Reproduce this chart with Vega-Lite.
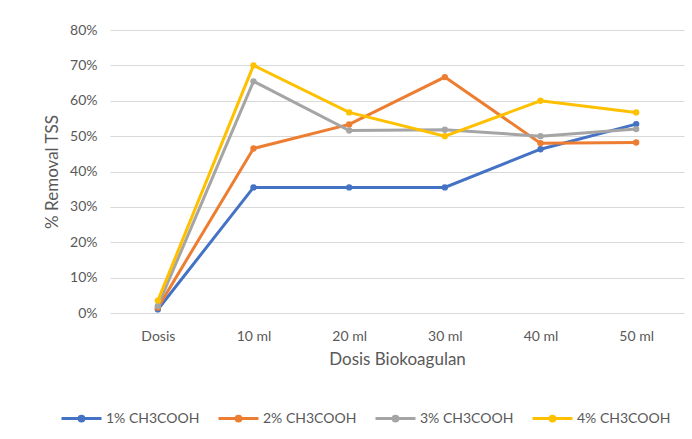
{
  "$schema": "https://vega.github.io/schema/vega-lite/v6.json",
  "autosize": "none",
  "width": 574,
  "height": 283,
  "padding": {"left": 110, "top": 30, "right": 8, "bottom": 126},
  "background": "white",
  "config": {
    "font": "Lato",
    "view": {"stroke": null},
    "axis": {"labelColor": "#595959", "titleColor": "#595959", "labelFont": "Lato", "titleFont": "Lato", "labelFontSize": 14, "titleFontSize": 17, "titleFontWeight": "normal"}
  },
  "data": {"values": [
    {"dosis": "Dosis", "seri": "1% CH3COOH", "v": 0.01},
    {"dosis": "10 ml", "seri": "1% CH3COOH", "v": 0.355},
    {"dosis": "20 ml", "seri": "1% CH3COOH", "v": 0.355},
    {"dosis": "30 ml", "seri": "1% CH3COOH", "v": 0.355},
    {"dosis": "40 ml", "seri": "1% CH3COOH", "v": 0.463},
    {"dosis": "50 ml", "seri": "1% CH3COOH", "v": 0.534},
    {"dosis": "Dosis", "seri": "2% CH3COOH", "v": 0.015},
    {"dosis": "10 ml", "seri": "2% CH3COOH", "v": 0.465},
    {"dosis": "20 ml", "seri": "2% CH3COOH", "v": 0.533},
    {"dosis": "30 ml", "seri": "2% CH3COOH", "v": 0.667},
    {"dosis": "40 ml", "seri": "2% CH3COOH", "v": 0.48},
    {"dosis": "50 ml", "seri": "2% CH3COOH", "v": 0.482},
    {"dosis": "Dosis", "seri": "3% CH3COOH", "v": 0.02},
    {"dosis": "10 ml", "seri": "3% CH3COOH", "v": 0.655},
    {"dosis": "20 ml", "seri": "3% CH3COOH", "v": 0.516},
    {"dosis": "30 ml", "seri": "3% CH3COOH", "v": 0.518},
    {"dosis": "40 ml", "seri": "3% CH3COOH", "v": 0.5},
    {"dosis": "50 ml", "seri": "3% CH3COOH", "v": 0.52},
    {"dosis": "Dosis", "seri": "4% CH3COOH", "v": 0.035},
    {"dosis": "10 ml", "seri": "4% CH3COOH", "v": 0.70},
    {"dosis": "20 ml", "seri": "4% CH3COOH", "v": 0.567},
    {"dosis": "30 ml", "seri": "4% CH3COOH", "v": 0.50},
    {"dosis": "40 ml", "seri": "4% CH3COOH", "v": 0.60},
    {"dosis": "50 ml", "seri": "4% CH3COOH", "v": 0.567}
  ]},
  "mark": {"type": "line", "strokeWidth": 3, "point": {"filled": true, "size": 40}},
  "encoding": {
    "x": {
      "field": "dosis", "type": "ordinal",
      "sort": ["Dosis", "10 ml", "20 ml", "30 ml", "40 ml", "50 ml"],
      "scale": {"paddingOuter": 0.5, "paddingInner": 0},
      "axis": {"title": "Dosis Biokoagulan", "labelAngle": 0, "ticks": false, "domain": false, "labelPadding": 16, "titlePadding": 8, "grid": false}
    },
    "y": {
      "field": "v", "type": "quantitative",
      "scale": {"domain": [0, 0.8], "nice": false},
      "axis": {"title": "% Removal TSS", "format": ".0%", "values": [0,0.1,0.2,0.3,0.4,0.5,0.6,0.7,0.8], "ticks": false, "domain": false, "labelPadding": 13, "titlePadding": 8, "grid": true, "gridColor": "#d9d9d9", "gridWidth": 1.2}
    },
    "color": {
      "field": "seri", "type": "nominal",
      "scale": {"domain": ["1% CH3COOH", "2% CH3COOH", "3% CH3COOH", "4% CH3COOH"], "range": ["#4472C4", "#ED7D31", "#A5A5A5", "#FFC000"]},
      "legend": {
        "title": null, "orient": "none", "direction": "horizontal",
        "legendX": -50, "legendY": 367,
        "labelColor": "#595959", "labelFont": "Lato", "labelFontSize": 14,
        "symbolType": "M-1,0H1M-0.12,0A0.12,0.12 0 1,0 0.12,0A0.12,0.12 0 1,0 -0.12,0",
        "symbolSize": 1600, "symbolStrokeWidth": 3, "columnPadding": 12, "labelOffset": 3
      }
    }
  }
}
